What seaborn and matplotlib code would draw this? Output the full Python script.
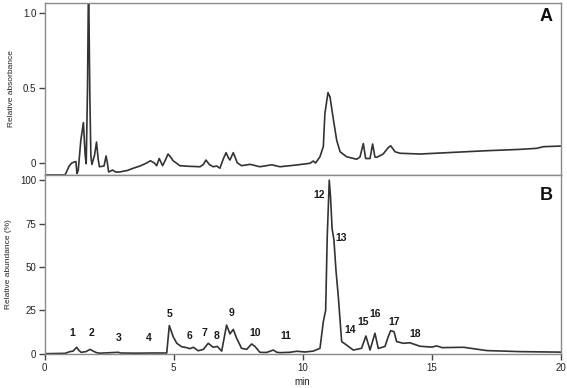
import matplotlib
matplotlib.use("Agg")
import matplotlib.pyplot as plt
import seaborn as sns
import pandas as pd

# Panel A: UV trace (relative absorbance)
a_time = [0.0, 0.79, 0.95, 1.05, 1.12, 1.21, 1.25, 1.30, 1.40, 1.50, 1.57, 1.61, 1.66, 1.70, 1.75,
          1.79, 1.83, 1.93, 2.01, 2.07, 2.12, 2.30, 2.38, 2.43, 2.48, 2.63, 2.75, 2.9, 3.2, 3.43,
          3.7, 3.95, 4.1, 4.25, 4.34, 4.44, 4.57, 4.68, 4.78, 4.88, 4.98, 5.1, 5.24, 5.6, 6.02,
          6.15, 6.25, 6.38, 6.53, 6.67, 6.79, 6.93, 7.03, 7.12, 7.18, 7.31, 7.40, 7.46, 7.63, 7.96,
          8.34, 8.8, 9.12, 9.5, 9.77, 10.28, 10.41, 10.5, 10.67, 10.8, 10.86, 10.98, 11.06, 11.19,
          11.32, 11.45, 11.7, 12.09, 12.22, 12.35, 12.44, 12.61, 12.71, 12.80, 12.87, 13.12, 13.30,
          13.41, 13.58, 13.77, 14.55, 15.84, 17.13, 18.42, 19.07, 19.33, 20.0]
a_value = [-0.08, -0.08, -0.02, 0.0, 0.005, 0.01, -0.07, -0.05, 0.15, 0.27, 0.05, -0.005, 0.5, 1.25, 0.45,
           0.05, -0.01, 0.05, 0.14, 0.03, -0.025, -0.02, 0.047, 0.0, -0.06, -0.047, -0.06, -0.06, -0.05, -0.035,
           -0.02, 0.0, 0.015, 0.0, -0.018, 0.03, -0.018, 0.02, 0.06, 0.04, 0.015, 0.0, -0.018, -0.022, -0.025,
           -0.01, 0.02, -0.01, -0.025, -0.02, -0.035, 0.03, 0.069, 0.035, 0.02, 0.069, 0.03, 0.002, -0.018, -0.009,
           -0.025, -0.012, -0.025, -0.018, -0.013, -0.002, 0.013, 0.0, 0.042, 0.11, 0.33, 0.47, 0.44, 0.29,
           0.15, 0.075, 0.042, 0.025, 0.04, 0.13, 0.03, 0.03, 0.127, 0.04, 0.038, 0.06, 0.10,
           0.115, 0.075, 0.065, 0.06, 0.071, 0.082, 0.091, 0.098, 0.109, 0.113]

# Panel B: MS trace (relative abundance, %)
b_time = [0.0, 0.79, 0.98, 1.1, 1.24, 1.32, 1.41, 1.6, 1.76, 1.88, 2.01, 2.14, 2.85, 2.95, 3.5,
          4.2, 4.73, 4.83, 4.98, 5.12, 5.31, 5.5, 5.63, 5.76, 5.95, 6.15, 6.34, 6.53, 6.69, 6.86,
          7.05, 7.18, 7.31, 7.44, 7.63, 7.83, 8.02, 8.15, 8.34, 8.6, 8.86, 9.0, 9.12, 9.5, 9.77,
          10.1, 10.41, 10.67, 10.8, 10.89, 10.95, 11.03, 11.08, 11.14, 11.21, 11.29, 11.38, 11.51,
          11.7, 11.96, 12.28, 12.45, 12.61, 12.8, 12.93, 13.19, 13.32, 13.41, 13.54, 13.64, 13.9,
          14.15, 14.55, 15.0, 15.19, 15.4, 16.23, 17.13, 18.42, 20.0]
b_value = [0.0, 0.2, 1.2, 1.5, 3.7, 2.0, 0.8, 1.2, 2.5, 1.5, 0.6, 0.3, 0.8, 0.4, 0.3,
           0.4, 0.4, 16.2, 9.8, 6.0, 4.0, 3.5, 2.9, 3.7, 1.7, 2.5, 6.0, 3.7, 4.2, 1.5,
           16.5, 11.4, 14.0, 8.9, 3.1, 2.5, 5.6, 4.2, 0.8, 0.7, 2.1, 0.8, 0.6, 0.8, 1.4,
           1.0, 1.5, 3.1, 18.5, 25.0, 67.0, 100.0, 90.0, 72.0, 65.6, 48.0, 33.0, 7.0,
           5.0, 2.1, 3.1, 10.2, 2.1, 11.8, 3.0, 4.2, 10.0, 13.3, 12.7, 7.0, 6.0,
           6.3, 4.3, 3.8, 4.5, 3.5, 3.7, 1.8, 1.2, 0.9]

# Peak labels
peak_labels = ["1", "2", "3", "4", "5", "6", "7", "8", "9", "10", "11", "12", "13", "14", "15", "16", "17", "18"]
peak_x = [1.05, 1.82, 2.85, 4.04, 4.83, 5.60, 6.21, 6.67, 7.25, 8.15, 9.35, 10.64, 11.48, 11.83, 12.34, 12.80, 13.54, 14.35]
peak_y = [12.0, 12.0, 8.8, 8.8, 22.9, 10.4, 12.2, 10.4, 23.3, 12.2, 10.4, 91.5, 66.9, 13.6, 18.2, 22.8, 18.2, 11.2]

sns.set_style("white")
plt.rcParams['font.family'] = ['Liberation Sans', 'DejaVu Sans']

fig = plt.figure(figsize=(5.67, 3.88), dpi=100)
left, right = 0.0788, 0.9889
axA = fig.add_axes([left, 0.549, right - left, 0.993 - 0.549])
axB = fig.add_axes([left, 0.0884, right - left, 0.549 - 0.0884])

line_color = "#333333"
spine_color = "#8a8a8a"

dfA = pd.DataFrame({"time": a_time, "value": a_value})
dfB = pd.DataFrame({"time": b_time, "value": b_value})
sns.lineplot(data=dfA, x="time", y="value", ax=axA, color=line_color, linewidth=1.2)
sns.lineplot(data=dfB, x="time", y="value", ax=axB, color=line_color, linewidth=1.2)

for ax in (axA, axB):
    ax.set_xlim(0, 20)
    for s in ax.spines.values():
        s.set_color(spine_color)
        s.set_linewidth(1.0)
    ax.tick_params(axis="both", direction="out", length=4, width=1, color="#444444",
                   labelsize=7, labelcolor="#222222", pad=2)

axA.set_ylim(-0.08, 1.07)
axA.set_yticks([0, 0.5, 1.0])
axA.set_yticklabels(["0", "0.5", "1.0"])
axA.set_xticks([])
axA.set_xlabel("")
axA.set_ylabel("Relative absorbance", fontsize=6, color="#222222", labelpad=6)
axA.tick_params(axis="y", left=True)
axA.text(0.985, 0.97, "A", transform=axA.transAxes, ha="right", va="top",
         fontsize=13, fontweight="bold", color="#111111")

axB.set_ylim(0, 103)
axB.set_yticks([0, 25, 50, 75, 100])
axB.set_xticks([0, 5, 10, 15, 20])
axB.set_xticklabels(["0", "5", "10", "15", "20"])
axB.tick_params(axis="y", left=True)
axB.tick_params(axis="x", bottom=True, pad=2.5)
axB.set_xlabel("min", fontsize=7, color="#222222", labelpad=3)
axB.set_ylabel("Relative abundance (%)", fontsize=6, color="#222222", labelpad=6)
axB.text(0.985, 0.93, "B", transform=axB.transAxes, ha="right", va="top",
         fontsize=13, fontweight="bold", color="#111111")

for lab, px, py in zip(peak_labels, peak_x, peak_y):
    axB.text(px, py, lab, ha="center", va="center", fontsize=7.5, fontweight="bold", color="#1a1a1a")

fig.savefig("out.png", dpi=100)
